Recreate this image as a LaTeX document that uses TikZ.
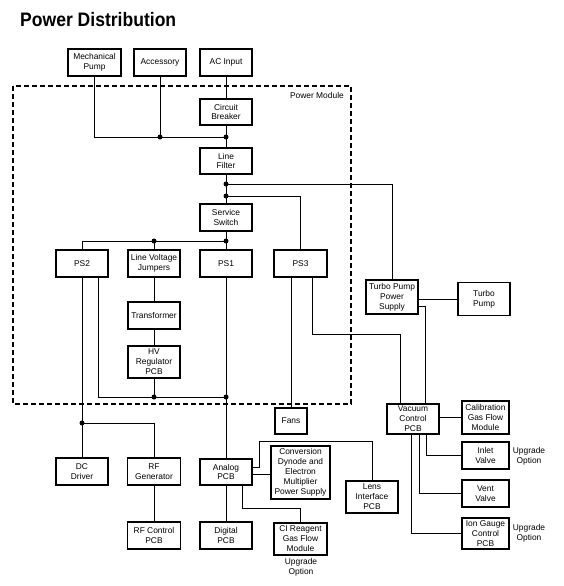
\documentclass[tikz,border=0pt]{standalone}
\usepackage{fontspec}
\setmainfont{Liberation Sans}
\usetikzlibrary{calc}
\begin{document}
\begin{tikzpicture}[x=1pt,y=-1pt,
  bx/.style={draw,line width=1.05pt,inner sep=0pt,align=center,
    minimum width=52,minimum height=27,font=\fontsize{8.4}{9.9}\selectfont},
  wire/.style={line width=0.9pt},
  dot/.style={circle,fill=black,inner sep=0pt,minimum size=5pt},
  lbl/.style={align=center,inner sep=0pt,font=\fontsize{8.4}{9.9}\selectfont}]
\useasboundingbox (0,0) rectangle (564,586);
% title
\node[anchor=base west,inner sep=0pt] (title) at (20,27)
  {\scalebox{0.9}[1]{\fontsize{19.5}{22}\selectfont\bfseries Power Distribution}};
% power module
\draw[line width=1.2pt,dash pattern=on 5pt off 3pt] (13,86) rectangle (351,404);
\node[lbl,anchor=east] (pmlabel) at (344,95) {Power Module};
% boxes
\node[bx,minimum width=53] (mp) at (94.5,62.5) {Mechanical\\Pump};
\node[bx] (acc) at (160,62.5) {Accessory};
\node[bx] (ac) at (226,62.5) {AC Input};
\node[bx,minimum height=26] (cb) at (226,112) {Circuit\\Breaker};
\node[bx,minimum height=26] (lf) at (226,161) {Line\\Filter};
\node[bx] (ss) at (226,217.5) {Service\\Switch};
\node[bx] (ps2) at (82,263.5) {PS2};
\node[bx] (lvj) at (154,263.5) {Line Voltage\\Jumpers};
\node[bx] (ps1) at (226,263.5) {PS1};
\node[bx,minimum width=53] (ps3) at (300.5,263.5) {PS3};
\node[bx] (tr) at (154,315.5) {Transformer};
\node[bx,minimum height=32] (hv) at (154,362) {HV\\Regulator\\PCB};
\node[bx,minimum height=34] (tpps) at (392,297) {Turbo Pump\\Power\\Supply};
\node[bx,minimum height=33] (tp) at (484,299) {Turbo\\Pump};
\node[bx,minimum width=32,minimum height=26] (fans) at (291,421) {Fans};
\node[bx,minimum height=30] (vc) at (413,419) {Vacuum\\Control\\PCB};
\node[bx,minimum width=47,minimum height=33] (cal) at (485.5,417.5) {Calibration\\Gas Flow\\Module};
\node[bx,minimum width=47] (inlet) at (485.5,455.5) {Inlet\\Valve};
\node[bx,minimum width=47] (vent) at (485.5,493.5) {Vent\\Valve};
\node[bx,minimum width=47,minimum height=31] (ion) at (485.5,533.5) {Ion Gauge\\Control\\PCB};
\node[bx,minimum height=32] (lens) at (372,497) {Lens\\Interface\\PCB};
\node[bx,minimum height=26] (analog) at (226,472) {Analog\\PCB};
\node[bx,minimum width=59,minimum height=53] (conv) at (300.5,472.5) {Conversion\\Dynode and\\Electron\\Multiplier\\Power Supply};
\node[bx] (dc) at (82,471.5) {DC\\Driver};
\node[bx,minimum width=53] (rfg) at (154,471.5) {RF\\Generator};
\node[bx,minimum width=53] (rfc) at (154,535.5) {RF Control\\PCB};
\node[bx] (dig) at (226,535.5) {Digital\\PCB};
\node[bx,minimum width=53,minimum height=32] (ci) at (300.5,539) {CI Reagent\\Gas Flow\\Module};
% upgrade labels
\node[lbl] (up1) at (529,456.5) {Upgrade\\Option};
\node[lbl] (up2) at (529,533.5) {Upgrade\\Option};
\node[lbl] (up3) at (301,567.5) {Upgrade\\Option};
% junction coordinates
\coordinate (jA) at (226,137);
\coordinate (jC) at (226,184);
\coordinate (jD) at (226,196);
\coordinate (jE) at (226,241);
\coordinate (jF) at (226,397);
\coordinate (jG) at (82,423);
\coordinate (k1) at (400,334);
\coordinate (k2) at (425,306);
\coordinate (k3) at (262,474);
\coordinate (k4) at (259,441);
\coordinate (k5) at (259,467);
\coordinate (k6) at (242,508);
\coordinate (v1) at (426,456);
\coordinate (v2) at (419,494);
\coordinate (v3) at (411,534);
% wires
\draw[wire] (ac) -- (cb);
\draw[wire] (cb) -- (lf);
\draw[wire] (mp.south) |- (jA);
\draw[wire] (acc.south) -- (acc.south |- jA);
\draw[wire] (lf) -- (ss);
\draw[wire] (jC) -| (tpps.north);
\draw[wire] (jD) -| (ps3.north);
\draw[wire] (ss) -- (ps1);
\draw[wire] (jE) -| (ps2.north);
\draw[wire] (lvj.north) -- (lvj.north |- jE);
\draw[wire] (lvj) -- (tr);
\draw[wire] (tr) -- (hv);
\draw[wire] (hv.south) -- (hv.south |- jF);
\draw[wire] (ps1) -- (analog);
\draw[wire] ($(ps2.south)+(16,0)$) |- (jF);
\draw[wire] (ps2.south) -- (dc.north);
\draw[wire] (jG) -| (rfg.north);
\draw[wire] (rfg) -- (rfc);
\draw[wire] (analog) -- (dig);
\draw[wire] ($(ps3.south)+(-9.5,0)$) -- (fans.north);
\draw[wire] ($(ps3.south)+(11.5,0)$) |- (k1) -- (k1 |- vc.north);
\draw[wire] (tp.west -| tpps.east) -- (tp.west);
\draw[wire] (tpps.east |- k2) -- (k2) -- (k2 |- vc.north);
\draw[wire] (vc.east |- cal.west) -- (cal.west);
\draw[wire] (v1 |- vc.south) |- (inlet.west);
\draw[wire] (v2 |- vc.south) |- (vent.west);
\draw[wire] (v3 |- vc.south) |- (ion.west);
\draw[wire] (k3 -| analog.east) -- (k3 -| conv.west);
\draw[wire] (k5 -| analog.east) -- (k5) -- (k4) -| (lens.north);
\draw[wire] (k6 |- analog.south) -- (k6) -| (ci.north);
% dots
\node[dot] (d1) at (jA) {};
\node[dot] (d2) at (acc.south |- jA) {};
\node[dot] (d3) at (jC) {};
\node[dot] (d4) at (jD) {};
\node[dot] (d5) at (jE) {};
\node[dot] (d6) at (lvj.north |- jE) {};
\node[dot] (d7) at (jF) {};
\node[dot] (d8) at (hv.south |- jF) {};
\node[dot] (d9) at (jG) {};
\end{tikzpicture}
\end{document}
